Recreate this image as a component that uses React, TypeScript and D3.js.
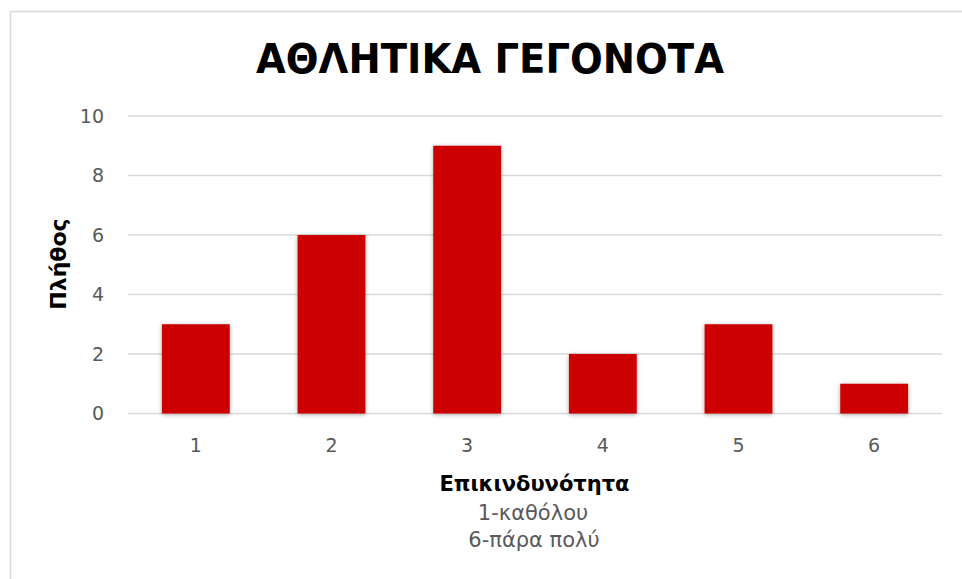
import * as d3 from "d3";

const categories = ["1", "2", "3", "4", "5", "6"];
const counts = [3, 6, 9, 2, 3, 1];
const yTicks = [0, 2, 4, 6, 8, 10];

const W = 962;
const H = 579;
const plotLeft = 128;
const plotRight = 942;
const plotTop = 116;
const plotBottom = 413.5;

export default function App() {
  const x = d3
    .scaleBand()
    .domain(categories)
    .range([plotLeft, plotRight])
    .paddingInner(0.5)
    .paddingOuter(0.25);
  const y = d3.scaleLinear().domain([0, 10]).range([plotBottom, plotTop]);
  const font = "Tahoma, 'DejaVu Sans', sans-serif";

  return (
    <svg
      width={W}
      height={H}
      style={{ position: "absolute", left: 0, top: 0, background: "#fff" }}
      fontFamily={font}
    >
      <defs>
        <filter id="sh" x="-20%" y="-20%" width="140%" height="140%">
          <feDropShadow dx="0" dy="1" stdDeviation="2" floodColor="#000" floodOpacity="0.35" />
        </filter>
      </defs>
      <rect x={10.5} y={11.5} width={W} height={H} fill="#fff" stroke="#d9d9d9" strokeWidth={1.5} />

      <text
        x={490}
        y={73}
        textAnchor="middle"
        fontSize={41}
        fontWeight="bold"
        fill="#000"
        textLength={468}
        lengthAdjust="spacingAndGlyphs"
      >
        ΑΘΛΗΤΙΚΑ ΓΕΓΟΝΟΤΑ
      </text>

      {yTicks.map((t) => (
        <g key={t}>
          <line x1={plotLeft} x2={plotRight} y1={y(t)} y2={y(t)} stroke="#d9d9d9" strokeWidth={1.5} />
          <text x={104} y={y(t)} dy="0.36em" textAnchor="end" fontSize={19} fill="#595959">
            {t}
          </text>
        </g>
      ))}

      {categories.map((c, i) => (
        <rect
          key={c}
          x={x(c)}
          y={y(counts[i])}
          width={x.bandwidth()}
          height={y(0) - y(counts[i])}
          fill="#CC0000"
          filter="url(#sh)"
        />
      ))}

      {categories.map((c) => (
        <text
          key={c}
          x={(x(c) as number) + x.bandwidth() / 2}
          y={452}
          textAnchor="middle"
          fontSize={19}
          fill="#595959"
        >
          {c}
        </text>
      ))}

      <text
        transform={`translate(66,264) rotate(-90)`}
        textAnchor="middle"
        fontSize={22}
        fontWeight="bold"
        fill="#000"
      >
        Πλήθος
      </text>

      <text x={534.5} y={490.5} textAnchor="middle" fontSize={21} fontWeight="bold" fill="#000">
        Επικινδυνότητα
      </text>
      <text x={533} y={520} textAnchor="middle" fontSize={21} fill="#595959">
        1-καθόλου
      </text>
      <text x={534} y={547} textAnchor="middle" fontSize={21} fill="#595959">
        6-πάρα πολύ
      </text>
    </svg>
  );
}
